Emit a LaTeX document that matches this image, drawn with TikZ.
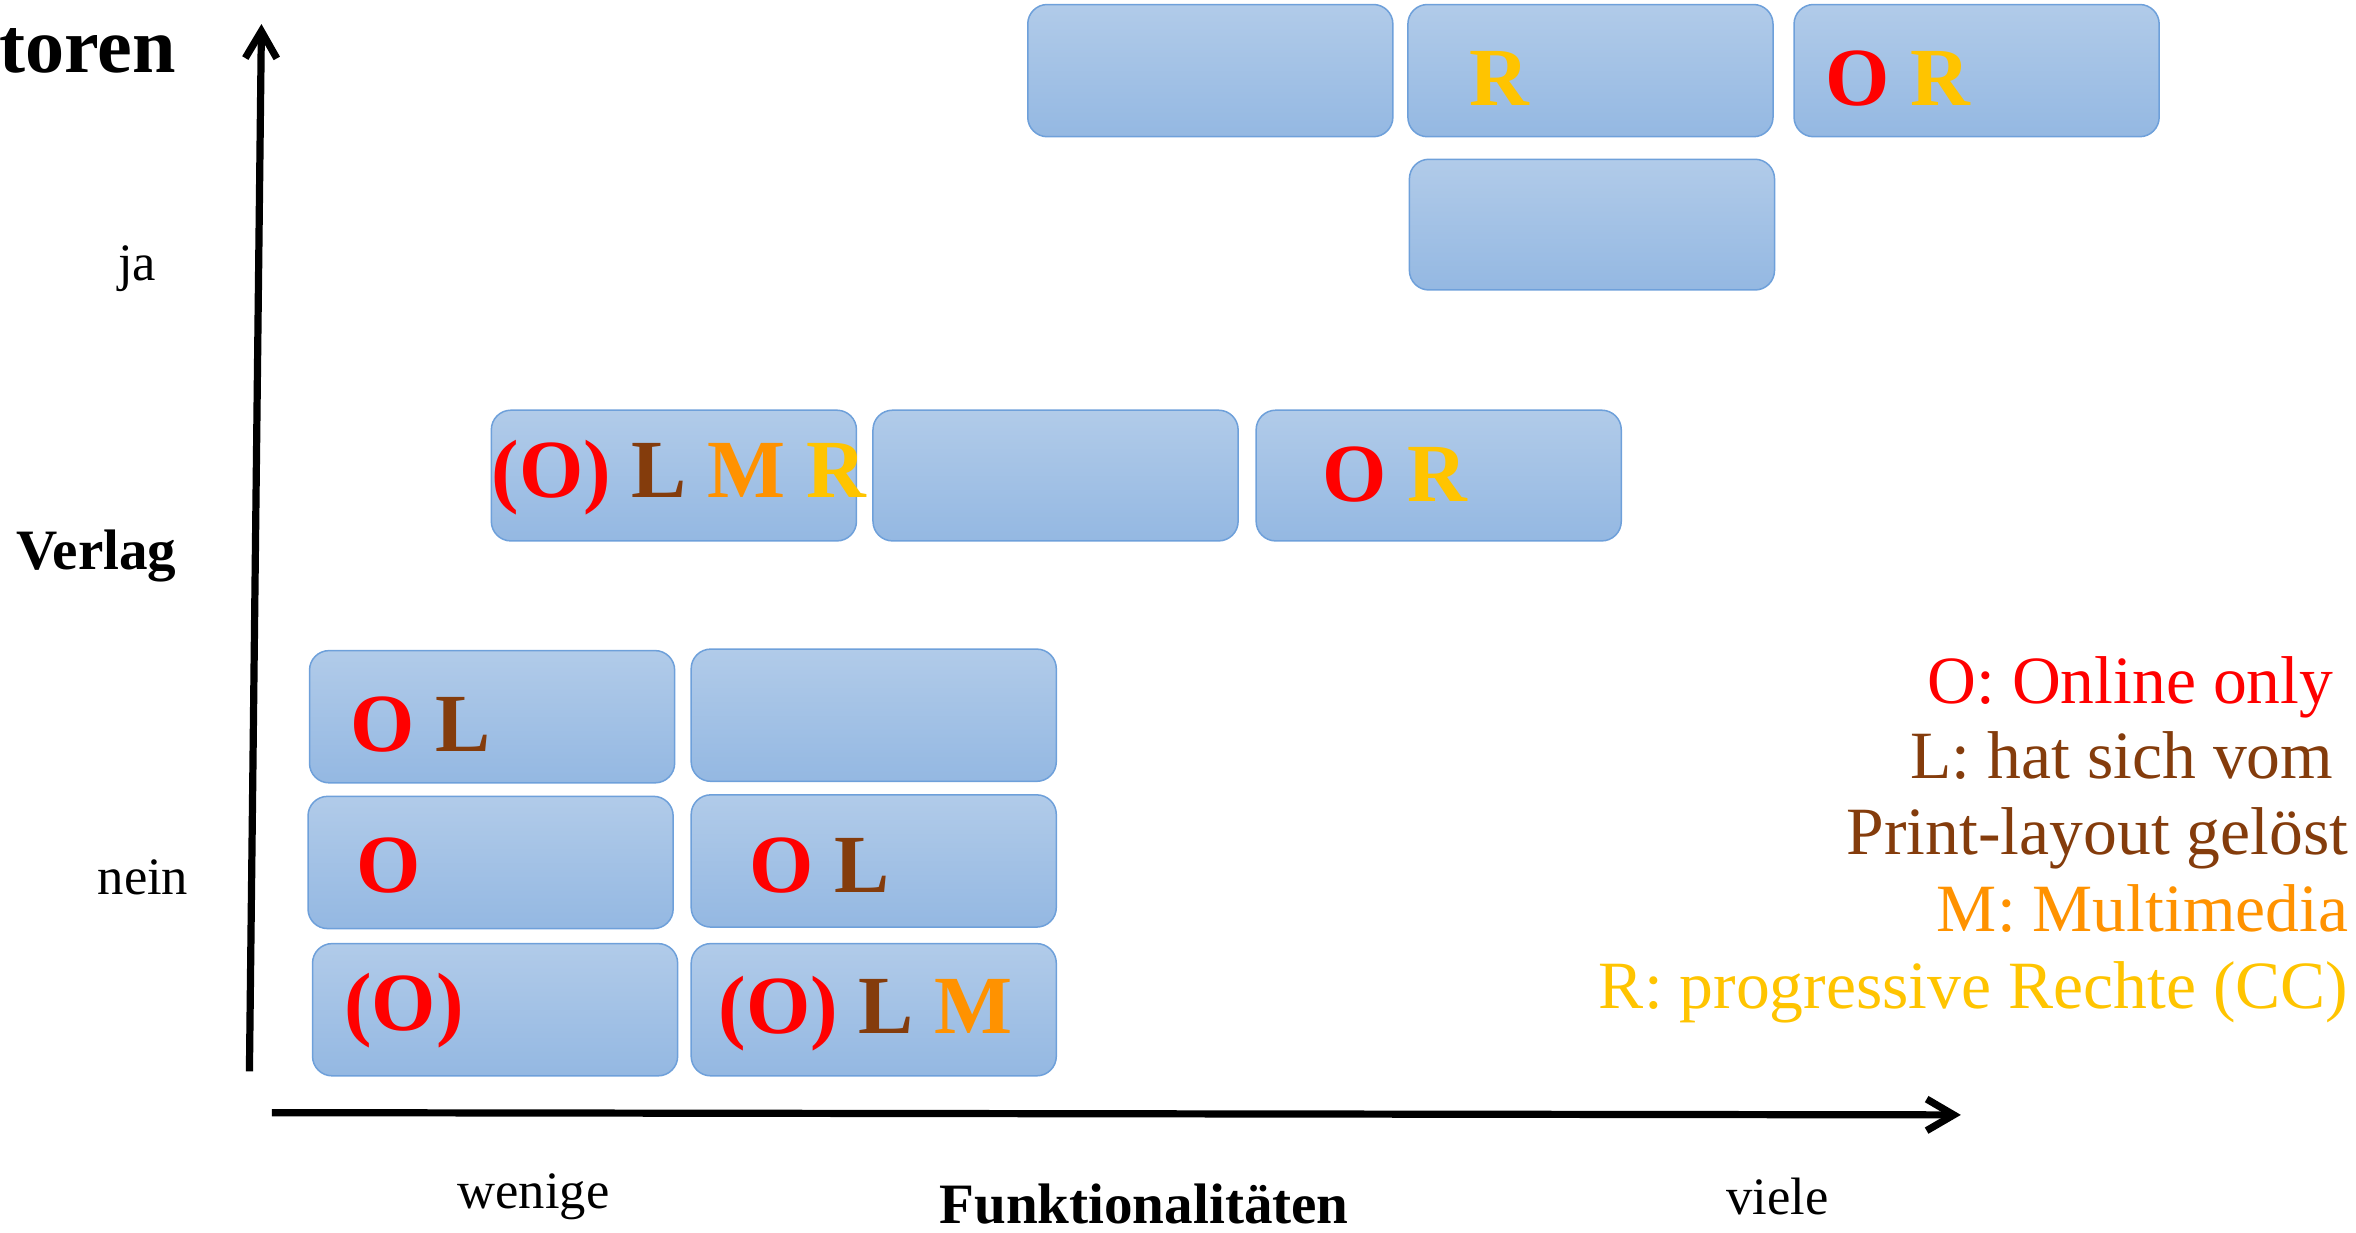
\documentclass[tikz,border=0pt]{standalone}
\usepackage{fontspec}
\setmainfont{Liberation Serif}
\usetikzlibrary{arrows.meta}
\definecolor{cO}{HTML}{FF0000}
\definecolor{cL}{HTML}{843C0C}
\definecolor{cM}{HTML}{FF9200}
\definecolor{cR}{HTML}{FFC400}
\definecolor{boxtop}{HTML}{B1CBE9}
\definecolor{boxbot}{HTML}{94B8E2}
\definecolor{boxline}{HTML}{6EA0DA}
\begin{document}
\begin{tikzpicture}[x=1pt,y=-1pt,
  boxsty/.style={draw=boxline, line width=1pt, rounded corners=13pt, top color=boxtop, bottom color=boxbot,
    minimum width=243pt, minimum height=88pt, inner sep=0pt, outer sep=0pt, anchor=north west},
  ltr/.style={font=\fontsize{55}{60}\selectfont\bfseries, inner sep=0pt, anchor=base west},
  lab/.style={font=\fontsize{35}{40}\selectfont, inner sep=0pt},
  blab/.style={font=\fontsize{38}{44}\selectfont\bfseries, inner sep=0pt},
  legtxt/.style={font=\fontsize{45}{50}\selectfont, inner sep=0pt, anchor=base east},
  axisline/.style={line width=4.8pt, -{Straight Barb[length=18pt,width=21pt]}}]
\useasboundingbox (0,0) rectangle (1568,820.6);
% boxes
\node[boxsty, minimum width=243pt, minimum height=88pt] (a1) at (684,3) {};
\node[boxsty, minimum width=243pt, minimum height=88pt] (a2) at (937,3) {};
\node[boxsty, minimum width=243pt, minimum height=88pt] (a3) at (1194,3) {};
\node[boxsty, minimum width=243pt, minimum height=87pt] (a4) at (938,106) {};
\node[boxsty, minimum width=243pt, minimum height=87pt] (b1) at (327,273) {};
\node[boxsty, minimum width=243pt, minimum height=87pt] (b2) at (581,273) {};
\node[boxsty, minimum width=243pt, minimum height=87pt] (b3) at (836,273) {};
\node[boxsty, minimum width=243pt, minimum height=88pt] (c1) at (206,433) {};
\node[boxsty, minimum width=243pt, minimum height=88pt] (c2) at (460,432) {};
\node[boxsty, minimum width=243pt, minimum height=88pt] (c3) at (205,530) {};
\node[boxsty, minimum width=243pt, minimum height=88pt] (c4) at (460,529) {};
\node[boxsty, minimum width=243pt, minimum height=88pt] (c5) at (208,628) {};
\node[boxsty, minimum width=243pt, minimum height=88pt] (c6) at (460,628) {};
% box letters
\node[ltr] (ta2) at (978,70) {\textcolor{cR}{R}};
\node[ltr] (ta3) at (1215,70) {\textcolor{cO}{O} \textcolor{cR}{R}};
\node[ltr] (tb1) at (327,331) {\textcolor{cO}{(O)} \textcolor{cL}{L} \textcolor{cM}{M} \textcolor{cR}{R}};
\node[ltr] (tb3) at (880,334) {\textcolor{cO}{O} \textcolor{cR}{R}};
\node[ltr] (tc1) at (233,500) {\textcolor{cO}{O} \textcolor{cL}{L}};
\node[ltr] (tc3) at (237,594) {\textcolor{cO}{O}};
\node[ltr] (tc4) at (498.5,594) {\textcolor{cO}{O} \textcolor{cL}{L}};
\node[ltr] (tc5) at (229,686) {\textcolor{cO}{(O)}};
\node[ltr] (tc6) at (478,687.5) {\textcolor{cO}{(O)} \textcolor{cL}{L} \textcolor{cM}{M}};
% axes
\coordinate (yb) at (166,713);
\coordinate (yt) at (174,16);
\coordinate (xl) at (181,740.5);
\coordinate (xr) at (1305,742);
\draw[axisline] (yb) -- (yt);
\draw[axisline] (xl) -- (xr);
% axis labels
\node[font=\fontsize{52}{58}\selectfont\bfseries, inner sep=0pt, anchor=base east] (toren) at (117,48) {toren};
\node[font=\fontsize{38}{44}\selectfont\bfseries, inner sep=0pt, anchor=base east] (verlag) at (117.6,379) {Verlag};
\node[lab, anchor=base east] (ja) at (104,187) {ja};
\node[lab, anchor=base east] (nein) at (125.5,595) {nein};
\node[lab, anchor=base] (wenige) at (355,804) {wenige};
\node[blab, anchor=base west] (funk) at (625,814.6) {Funktionalitäten};
\node[lab, anchor=base] (viele) at (1183,808.6) {viele};
% legend
\node[legtxt, text=cO] (l1) at (1553,468) {O: Online only};
\node[legtxt, text=cL] (l2) at (1553,518) {L: hat sich vom};
\node[legtxt, text=cL] (l3) at (1563,569) {Print-layout gelöst};
\node[legtxt, text=cM] (l4) at (1563,620) {M: Multimedia};
\node[legtxt, text=cR] (l5) at (1563,671) {R: progressive Rechte (CC)};
\end{tikzpicture}
\end{document}
